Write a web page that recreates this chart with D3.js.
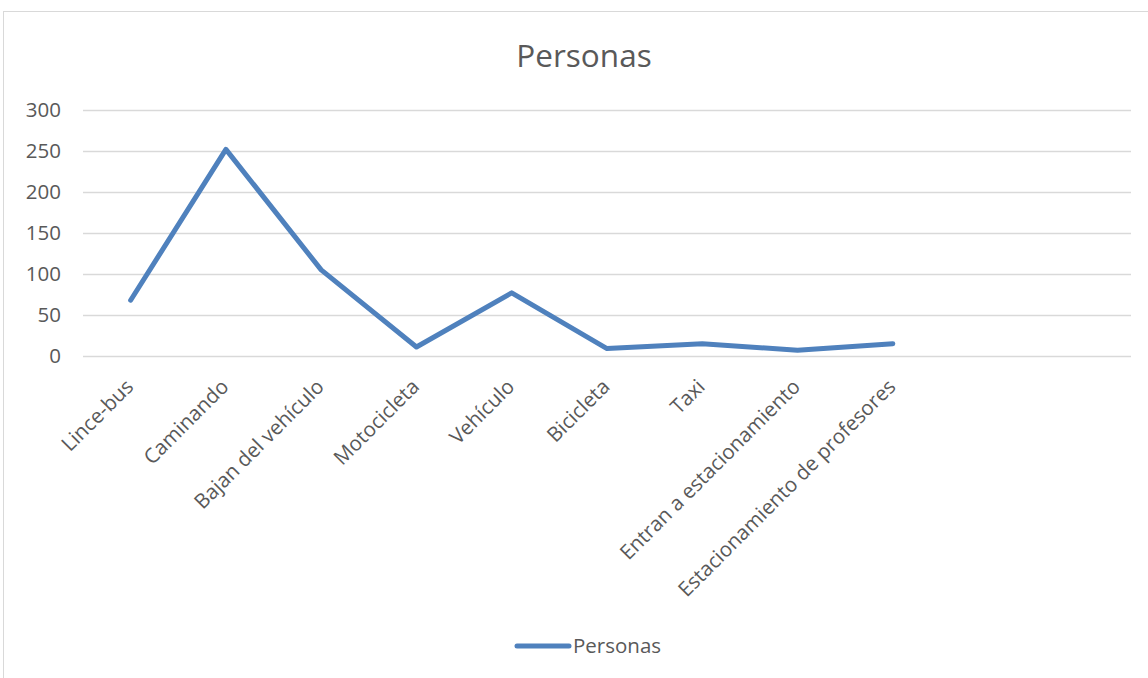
<!DOCTYPE html>
<html lang="es">
<head>
<meta charset="UTF-8">
<title>Personas</title>
<script src="https://d3js.org/d3.v7.min.js"></script>
<style>
    body { margin: 0; background: #fff; }
    svg { display: block; font-family: "Open Sans", sans-serif; }
</style>
</head>
<body>
<div id="chart"></div>
<script>
// datos
var categorias = ["Lince-bus", "Caminando", "Bajan del vehículo", "Motocicleta", "Vehículo",
    "Bicicleta", "Taxi", "Entran a estacionamiento", "Estacionamiento de profesores", "", " "]
var personas = [68, 252, 105, 11, 77, 9, 15, 7, 15]
var ticksY = [0, 50, 100, 150, 200, 250, 300]
var serie = "Personas"

var width = 1148
var height = 678
var margin = {top: 110, bottom: 322, left: 83, right: 17}
var fuente = "'Open Sans', sans-serif"

var svg = d3.select("#chart")
    .append("svg")
    .attr("width", width)
    .attr("height", height)

// marco del gráfico
svg.append("rect")
    .attr("x", 3.5).attr("y", 11.5)
    .attr("width", width).attr("height", height)
    .attr("fill", "none")
    .attr("stroke", "#d9d9d9")
    .attr("stroke-width", 1)

var x = d3.scaleBand()
    .domain(categorias)
    .range([margin.left, width - margin.right])

var y = d3.scaleLinear()
    .domain([0, 300])
    .range([height - margin.bottom, margin.top])

// título
svg.append("text")
    .attr("x", 584)
    .attr("y", 67)
    .attr("text-anchor", "middle")
    .attr("font-size", 31.5)
    .attr("fill", "#595959")
    .text(serie)

// líneas de cuadrícula + etiquetas eje y
var ejeY = d3.axisLeft(y)
    .tickValues(ticksY)
    .tickSize(-(width - margin.right - margin.left))
    .tickPadding(22)

svg.append("g")
    .attr("transform", "translate(" + margin.left + ",0)")
    .call(ejeY)
    .call(g => g.select(".domain").remove())
    .call(g => g.selectAll(".tick line").attr("stroke", "#d9d9d9").attr("stroke-width", 1.5))
    .call(g => g.selectAll(".tick text")
        .attr("font-size", 20.5)
        .attr("fill", "#595959")
        .attr("font-family", fuente))

// etiquetas eje x (inclinadas)
var ejeX = d3.axisBottom(x).tickSize(0).tickPadding(0)
svg.append("g")
    .attr("transform", "translate(0," + (height - margin.bottom) + ")")
    .call(ejeX)
    .call(g => g.select(".domain").remove())
    .selectAll("text")
        .attr("font-size", 20.5)
        .attr("fill", "#595959")
        .attr("font-family", fuente)
        .style("text-anchor", "end")
        .attr("dy", null)
        .attr("y", 0)
        .attr("transform", "translate(4,32) rotate(-45)")

// línea de la serie
var linea = d3.line()
    .x((d, i) => x(categorias[i]) + x.bandwidth() / 2)
    .y(d => y(d))

svg.append("path")
    .datum(personas)
    .attr("d", linea)
    .attr("fill", "none")
    .attr("stroke", "#4f81bd")
    .attr("stroke-width", 5)
    .attr("stroke-linejoin", "round")
    .attr("stroke-linecap", "round")

// leyenda
var leyenda = svg.append("g").attr("transform", "translate(517,646)")
leyenda.append("line")
    .attr("x1", 0).attr("x2", 52)
    .attr("stroke", "#4f81bd")
    .attr("stroke-width", 5)
    .attr("stroke-linecap", "round")
leyenda.append("text")
    .attr("x", 56)
    .attr("y", 7)
    .attr("font-size", 20.5)
    .attr("fill", "#595959")
    .text(serie)
</script>
</body>
</html>
